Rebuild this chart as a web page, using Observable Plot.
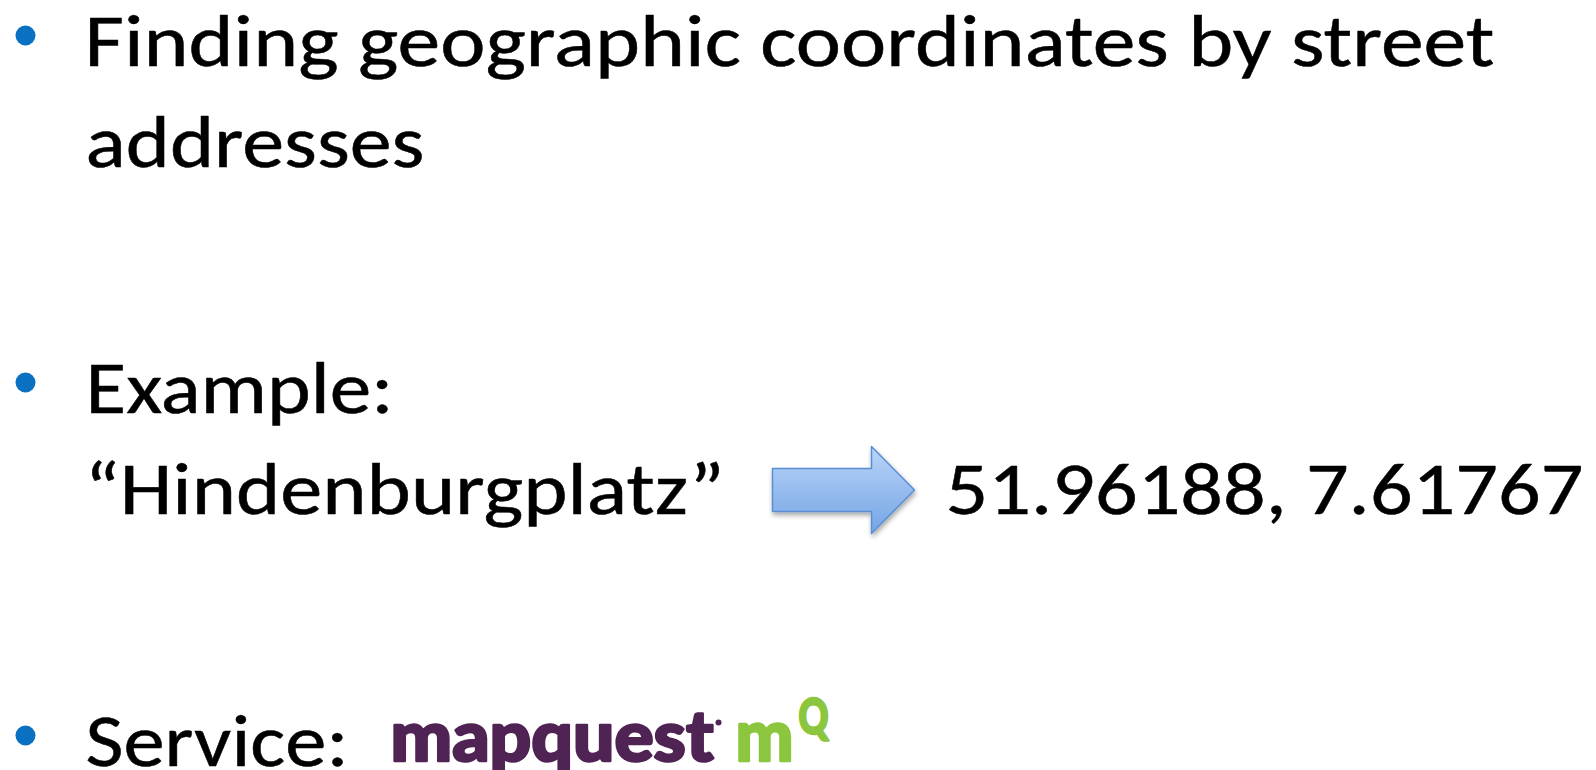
<!DOCTYPE html>
<html>
<head>
<meta charset="utf-8">
<script src="https://cdn.jsdelivr.net/npm/d3@7"></script>
<script src="https://cdn.jsdelivr.net/npm/@observablehq/plot@0.6"></script>
<style>
  html, body { margin: 0; padding: 0; background: #fff; overflow: hidden; }
  #chart svg { display: block; }
</style>
</head>
<body>
<div id="chart"></div>
<script>
// ---- content ----
const lines = [
  "Finding geographic coordinates by street",
  "addresses",
  "Example:",
  "\u201CHindenburgplatz\u201D",
  "51.96188, 7.61767",
  "Service:"
];
const bulletLines = [0, 2, 5];          // lines that start with a bullet
const logoParts = ["mapquest", "m", "Q"];

// ---- layout (slide pixel space 1596 x 770) ----
const W = 1596, H = 770;
const lineX   = [84, 85, 85, 84, 945, 85];
const lineY   = [65, 166, 412, 513, 513, 765];
const lineLen = [1410, 339, 308, 640, 638, 263];
const bulletX = 25, bulletDy = -30;

const logoX   = [390, 735, 798];
const logoY   = [760, 760, 733];
const logoLen = [323, 58, 30];
const logoSize = [71, 72, 50];
const logoColor = ["#4f2353", "#8cc63f", "#8cc63f"];

const arrowSpec = {tail: 772, headBase: 871, tip: 914, shaftTop: 468, shaftBot: 511, headTop: 446, headBot: 533};

// ---- derived tables ----
const textData = lines.map((t, i) => ({t, x: lineX[i], y: lineY[i]}));
const bulletData = bulletLines.map(i => ({x: bulletX, y: lineY[i] + bulletDy}));
const logoData = logoParts.map((t, i) => ({t, x: logoX[i], y: logoY[i], c: logoColor[i], s: logoSize[i]}));
const a = arrowSpec, mid = (a.shaftTop + a.shaftBot) / 2;
const arrowPts = [
  {x: a.tail, y: a.shaftTop}, {x: a.headBase, y: a.shaftTop}, {x: a.headBase, y: a.headTop},
  {x: a.tip, y: mid}, {x: a.headBase, y: a.headBot}, {x: a.headBase, y: a.shaftBot},
  {x: a.tail, y: a.shaftBot}
];

const font = "Carlito, Calibri, Lato, 'Open Sans', sans-serif";
const logoFont = "Lato, 'Open Sans', sans-serif";

const plot = Plot.plot({
  width: W, height: H,
  margin: 0,
  x: {domain: [0, W], range: [0, W], axis: null},
  y: {domain: [0, H], range: [0, H], axis: null},
  style: {background: "#fff", overflow: "hidden"},
  marks: [
    Plot.dot(bulletData, {x: "x", y: "y", r: 10, fill: "#0a70c2", stroke: "none"}),
    Plot.text(textData, {x: "x", y: "y", text: "t", textAnchor: "start", lineAnchor: "bottom",
      fontSize: 74, fontFamily: font, fill: "#000", stroke: "#000", strokeWidth: 0.5}),
    Plot.line(arrowPts, {x: "x", y: "y", curve: "linear-closed", fill: "#9cc0f0",
      stroke: "#5a8ed4", strokeWidth: 1.5}),
    Plot.text(logoData, {x: "x", y: "y", text: "t", textAnchor: "start", lineAnchor: "bottom",
      fontSize: "s", fill: "c", stroke: "c", strokeWidth: 2.5, strokeLinejoin: "round",
      fontFamily: logoFont, fontWeight: 900}),
    Plot.dot([{x: logoX[0] + logoLen[0] + 5, y: 722}], {x: "x", y: "y", r: 3, fill: "#4f2353", stroke: "none"})
  ]
});

const svg = d3.select(plot);
const defs = svg.insert("defs", ":first-child");
const g = defs.append("linearGradient").attr("id", "arrowFill").attr("x1", 0).attr("y1", 0).attr("x2", 0).attr("y2", 1);
g.append("stop").attr("offset", "0%").attr("stop-color", "#bad5f8");
g.append("stop").attr("offset", "100%").attr("stop-color", "#74a4e5");
const f = defs.append("filter").attr("id", "arrowShadow").attr("x", "-20%").attr("y", "-20%").attr("width", "140%").attr("height", "160%");
f.append("feDropShadow").attr("dx", 1).attr("dy", 3).attr("stdDeviation", 2.5).attr("flood-color", "#000").attr("flood-opacity", 0.35);
svg.selectAll('g[aria-label="line"]').attr("filter", "url(#arrowShadow)")
  .selectAll("path").attr("fill", "url(#arrowFill)");

const textGroups = svg.selectAll('g[aria-label="text"]').nodes();
d3.select(textGroups[0]).selectAll("text").each(function(d, i) {
  d3.select(this).attr("textLength", lineLen[i]).attr("lengthAdjust", "spacingAndGlyphs");
});
d3.select(textGroups[1]).selectAll("text").each(function(d, i) {
  d3.select(this).attr("textLength", logoLen[i]).attr("lengthAdjust", "spacingAndGlyphs");
});

document.getElementById("chart").appendChild(plot);
</script>
</body>
</html>
